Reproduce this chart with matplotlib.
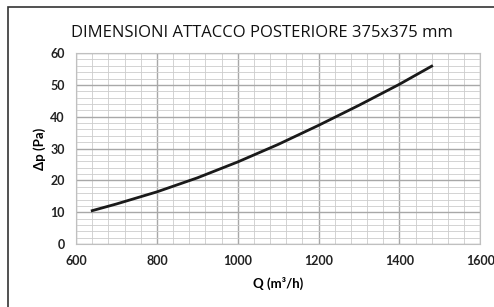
import matplotlib.pyplot as plt
from matplotlib.patches import Rectangle
from matplotlib.ticker import MultipleLocator

# Dati della curva (portata vs perdita di carico)
portata = [640, 700, 800, 900, 1000, 1100, 1200, 1300, 1400, 1480]
delta_p = [10.5, 12.6, 16.4, 20.8, 25.8, 31.3, 37.3, 43.6, 50.2, 55.9]

titolo = 'DIMENSIONI ATTACCO POSTERIORE 375x375 mm'

fig = plt.figure(figsize=(4.94, 3.07), dpi=100)
ax = fig.add_axes([0.154, 0.205, 0.818, 0.622])

ax.plot(portata, delta_p, color='#1a1a1a', linewidth=2.0)

ax.set_xlim(600, 1600)
ax.set_ylim(0, 60)
ax.xaxis.set_major_locator(MultipleLocator(200))
ax.xaxis.set_minor_locator(MultipleLocator(40))
ax.yaxis.set_major_locator(MultipleLocator(10))
ax.yaxis.set_minor_locator(MultipleLocator(2))
ax.grid(which='major', color='#a8a8a8', linewidth=1.0)
ax.grid(which='minor', color='#cccccc', linewidth=0.6)
ax.set_axisbelow(True)
for s in ax.spines.values():
    s.set_color('#c0c0c0')
    s.set_linewidth(0.8)
ax.tick_params(which='both', length=0, colors='#222222', labelsize=9, pad=8)
for lab in ax.get_xticklabels() + ax.get_yticklabels():
    lab.set_fontfamily('Lato')
    lab.set_fontweight('bold')

ax.set_xlabel('Q (m³/h)', fontsize=9.5, fontweight='bold', family='Lato', labelpad=7)
ax.set_ylabel('Δp (Pa)', fontsize=9.5, fontweight='bold', family='Lato', labelpad=3)
fig.text(0.53, 0.893, titolo, ha='center', va='center', fontsize=12,
         family='Open Sans', fontweight='medium', color='#111111')

# Cornice esterna
fig.patches.append(Rectangle((8 / 494, -0.1), 1.2, 1.1 - 7 / 307,
                             transform=fig.transFigure, fill=False,
                             edgecolor='#333333', linewidth=1.2))

fig.savefig('out.png', dpi=100)
